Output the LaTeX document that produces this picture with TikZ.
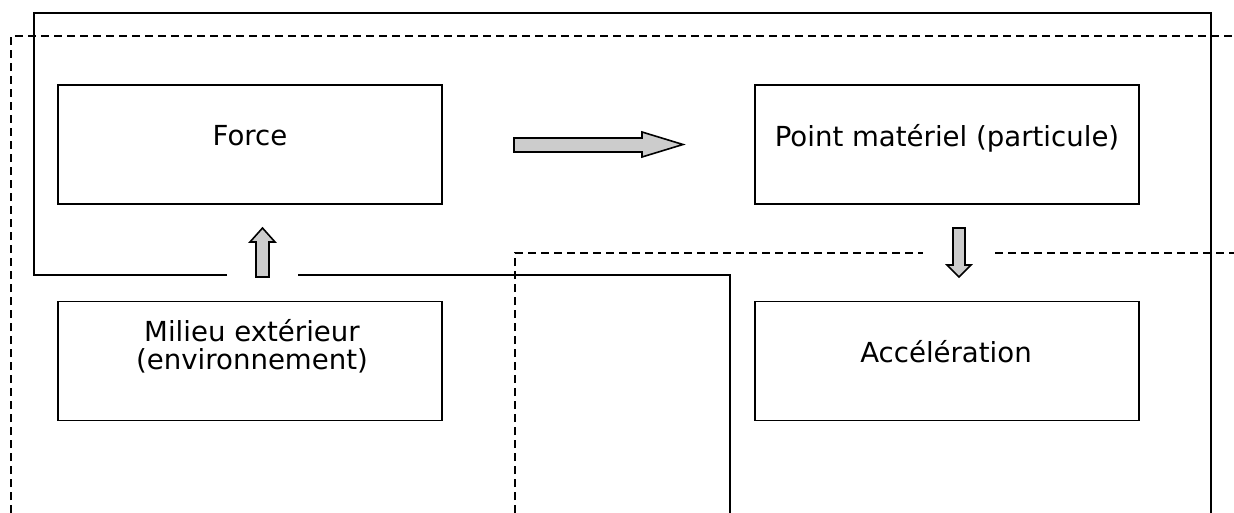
\documentclass[tikz,border=0pt]{standalone}
\usepackage{fontspec}
\setmainfont{DejaVu Sans}
\definecolor{arrowgray}{HTML}{CCCCCC}
\begin{document}
\begin{tikzpicture}[x=1pt,y=-1pt,
  box/.style={draw, line width=1.7pt, minimum width=384pt, minimum height=119pt, inner sep=0pt},
  lbl/.style={anchor=base, inner sep=0pt, font=\fontsize{27.6}{29}\selectfont, align=center},
  frame/.style={draw, line width=1.7pt},
  dframe/.style={draw, line width=1.7pt, dash pattern=on 8pt off 5pt},
  blockarrow/.style={draw, line width=1.6pt, fill=arrowgray, line join=miter}]
\useasboundingbox (0,0) rectangle (1234,513);

% frames
\coordinate (s1) at (227,275);
\coordinate (s2) at (34,275);
\coordinate (s3) at (34,13);
\coordinate (s4) at (1211,13);
\coordinate (s5) at (1211,513);
\coordinate (s6) at (298,275);
\coordinate (s7) at (730,275);
\coordinate (s8) at (730,513);
\path[frame] (s1) -- (s2) -- (s3) -- (s4) -- (s5);
\path[frame] (s6) -- (s7) -- (s8);

\coordinate (d1) at (11,513);
\coordinate (d2) at (11,36);
\coordinate (d3) at (1234,36);
\coordinate (d4) at (515,513);
\coordinate (d5) at (515,253);
\coordinate (d6) at (923,253);
\coordinate (d7) at (995,253);
\coordinate (d8) at (1234,253);
\path[dframe] (d1) -- (d2) -- (d3);
\path[dframe] (d4) -- (d5) -- (d6);
\path[dframe] (d7) -- (d8);

% boxes
\node[box, fill=white] (force) at (250,144.5) {};
\node[box, fill=white] (point) at (947,144.5) {};
\node[box, fill=white] (milieu) at (250,361) {};
\node[box, fill=white] (accel) at (947,361) {};

\node[lbl] (tforce) at (250,146) {Force};
\node[lbl] (tpoint) at (947,147) {Point matériel (particule)};
\node[lbl, anchor=base] (tmilieu1) at (252,341) {Milieu extérieur};
\node[lbl, anchor=base] (tmilieu2) at (252,369) {(environnement)};
\node[lbl] (taccel) at (946,362) {Accélération};

% block arrows
\path[blockarrow] (514,138) -- (642,138) -- (642,132) -- (683,144.5) -- (642,157) -- (642,152) -- (514,152) -- cycle;
\path[blockarrow] (256,277) -- (256,242) -- (250,242) -- (262.5,228) -- (275,242) -- (269,242) -- (269,277) -- cycle;
\path[blockarrow] (953,228) -- (965,228) -- (965,265) -- (971,265) -- (959,277) -- (947,265) -- (953,265) -- cycle;
\end{tikzpicture}
\end{document}
